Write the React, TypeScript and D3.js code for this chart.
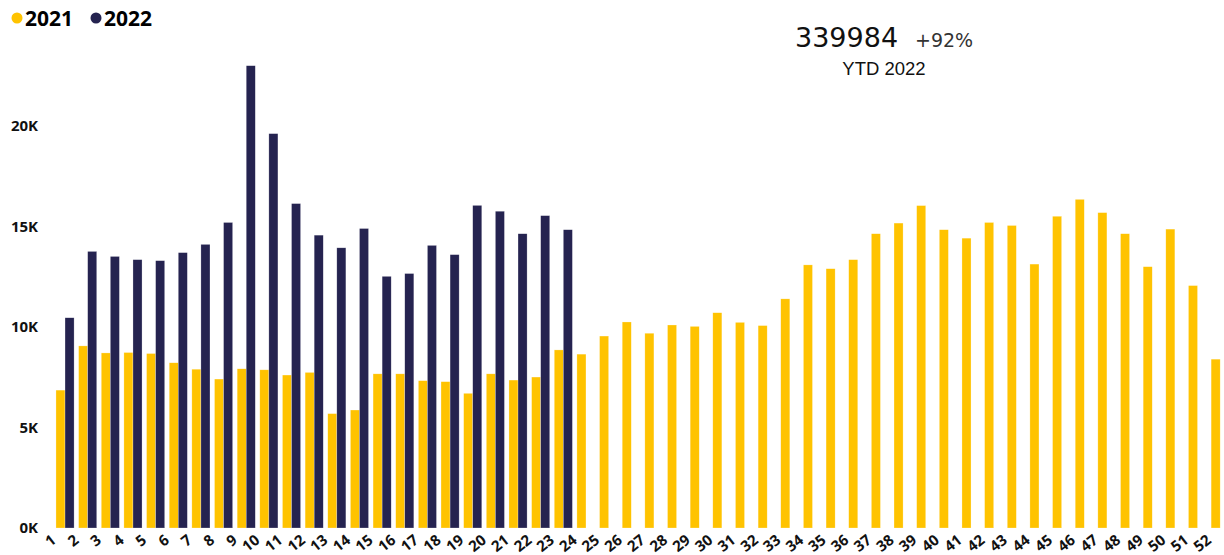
import React from "react";
import * as d3 from "d3";

const weeks: string[] = Array.from({ length: 52 }, (_, i) => String(i + 1));

const values2021: number[] = [
  6860, 9060, 8710, 8730, 8680, 8220, 7900, 7410, 7920, 7870,
  7610, 7740, 5690, 5870, 7670, 7670, 7330, 7280, 6700, 7670,
  7360, 7510, 8860, 8650, 9550, 10250, 9690, 10100, 10030, 10710,
  10230, 10070, 11400, 13090, 12900, 13350, 14640, 15170, 16040, 14840,
  14420, 15200, 15050, 13130, 15510, 16350, 15690, 14640, 13000, 14870,
  12060, 8400,
];

const values2022: number[] = [
  10460, 13760, 13510, 13350, 13300, 13700, 14110, 15200, 23000, 19620,
  16140, 14570, 13940, 14900, 12520, 12660, 14060, 13600, 16050, 15760,
  14640, 15540, 14840,
];

const yTicks: number[] = [0, 5000, 10000, 15000, 20000];
const seriesNames: string[] = ["2021", "2022"];
const seriesColors: string[] = ["#FFC300", "#252350"];

const kpiValue = "339984";
const kpiDelta = "+92%";
const kpiLabel = "YTD 2022";

const W = 1224;
const H = 555;

export default function App() {
  const x = d3
    .scaleBand<string>()
    .domain(weeks)
    .range([53.7, 1231.5])
    .paddingInner(0.2)
    .paddingOuter(0.1);
  const xs = d3
    .scaleBand<string>()
    .domain(seriesNames)
    .range([0, x.bandwidth()])
    .padding(0);
  const y = d3.scaleLinear().domain([0, 20000]).range([528, 126]);

  const series = [values2021, values2022];
  const fmt = (v: number) => `${v / 1000}K`;

  return (
    <div style={{ position: "absolute", left: 0, top: 0 }}>
      <svg width={W} height={H} style={{ display: "block", background: "#fff" }}>
        {/* legend */}
        <g fontFamily="'Open Sans', sans-serif" fontWeight={700} fontSize={21} fill="#000">
          <circle cx={17} cy={18} r={5.5} fill={seriesColors[0]} />
          <text x={25} y={26}>{seriesNames[0]}</text>
          <circle cx={96} cy={18} r={5.5} fill={seriesColors[1]} />
          <text x={104} y={26}>{seriesNames[1]}</text>
        </g>

        {/* KPI */}
        <g fill="#111">
          <text x={795} y={47} fontFamily="'DejaVu Sans', sans-serif" fontSize={27}>
            {kpiValue}
          </text>
          <text x={915} y={47} fontFamily="'DejaVu Sans', sans-serif" fontSize={19} fill="#333">
            {kpiDelta}
          </text>
          <text x={884} y={75} textAnchor="middle" fontFamily="'Liberation Sans', Arial, sans-serif" fontSize={18.5}>
            {kpiLabel}
          </text>
        </g>

        {/* y axis labels */}
        <g fontFamily="'Open Sans', sans-serif" fontWeight={700} fontSize={15} fill="#111">
          {yTicks.map((t) => (
            <text key={t} x={38} y={y(t)} dy="0.36em" textAnchor="end">
              {fmt(t)}
            </text>
          ))}
        </g>

        {/* bars */}
        {series.map((vals, si) => (
          <g key={si} fill={seriesColors[si]} stroke="#fff" strokeOpacity={0.5} strokeWidth={0.5}>
            {vals.map((v, i) => (
              <rect
                key={i}
                x={(x(weeks[i]) as number) + (xs(seriesNames[si]) as number)}
                y={y(v)}
                width={xs.bandwidth()}
                height={y(0) - y(v)}
              />
            ))}
          </g>
        ))}

        {/* x axis labels */}
        <g fontFamily="'Open Sans', sans-serif" fontWeight={700} fontSize={15} fill="#111">
          {weeks.map((w) => {
            const cx = (x(w) as number) + x.bandwidth() / 2 - 8;
            return (
              <text key={w} transform={`translate(${cx},542) rotate(-38)`} textAnchor="end">
                {w}
              </text>
            );
          })}
        </g>
      </svg>
    </div>
  );
}
